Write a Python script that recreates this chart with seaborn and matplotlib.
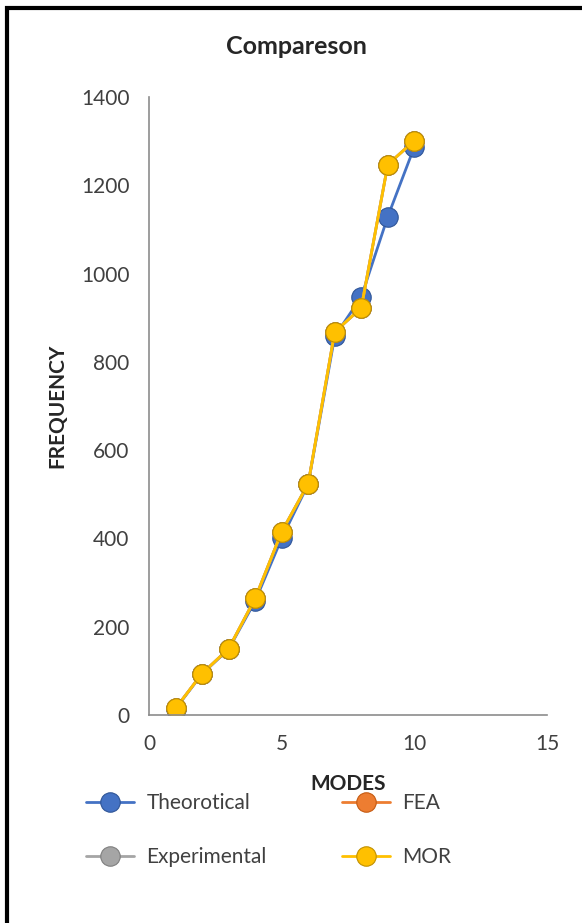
import matplotlib
matplotlib.use('Agg')
import matplotlib.pyplot as plt
import seaborn as sns
import pandas as pd
from matplotlib.patches import Rectangle

modes = [1, 2, 3, 4, 5, 6, 7, 8, 9, 10]
theorotical = [14, 93, 149, 258, 400, 523, 858, 947, 1129, 1287]
fea = [15, 94, 150, 264, 415, 524, 868, 922, 1247, 1301]
experimental = [15, 94, 150, 264, 415, 524, 868, 922, 1247, 1301]
mor = [15, 94, 150, 264, 415, 524, 868, 922, 1247, 1301]

sns.set_style('white')
plt.rcParams['font.family'] = ['Lato', 'DejaVu Sans']

fig = plt.figure(figsize=(5.82, 9.23), dpi=100)
ax = fig.add_axes([149 / 582, 208 / 923, 398 / 582, 618 / 923])

series = [
    ('Theorotical', theorotical, '#4472C4', '#2F5597'),
    ('FEA', fea, '#ED7D31', '#C55A11'),
    ('Experimental', experimental, '#A5A5A5', '#7F7F7F'),
    ('MOR', mor, '#FFC000', '#C09000'),
]
for name, vals, col, edge in series:
    df = pd.DataFrame({'mode': modes, 'freq': vals})
    sns.lineplot(data=df, x='mode', y='freq', ax=ax, color=col, linewidth=2,
                 marker='o', markersize=14, markerfacecolor=col,
                 markeredgecolor=edge, markeredgewidth=0.8, label=name)
handles_list, labels_list = ax.get_legend_handles_labels()
ax.get_legend().remove()

ax.set_xlim(0, 15)
ax.set_ylim(0, 1400)
ax.set_xticks([0, 5, 10, 15])
ax.set_yticks(range(0, 1401, 200))
ax.tick_params(axis='both', length=0, labelsize=15, colors='#404040')
ax.tick_params(axis='y', pad=14)
ax.tick_params(axis='x', pad=14)
for s in ['top', 'right']:
    ax.spines[s].set_visible(False)
for s in ['left', 'bottom']:
    ax.spines[s].set_color('#8C8C8C')
    ax.spines[s].set_linewidth(1.2)

ax.set_xlabel('MODES', fontsize=15, fontweight='bold', labelpad=14)
ax.set_ylabel('FREQUENCY', fontsize=15, fontweight='bold', labelpad=10)
fig.text(296 / 582, 1 - 47 / 923, 'Compareson', ha='center', va='center',
         fontsize=18, fontweight='bold')

order = [0, 2, 1, 3]
fig.legend([handles_list[i] for i in order], [labels_list[i] for i in order],
           ncol=2, loc='upper left', bbox_to_anchor=(86 / 582, 1 - 793 / 923),
           frameon=False, fontsize=15, handlelength=2.3, columnspacing=3.6,
           labelspacing=1.65, handletextpad=0.6, borderpad=0, borderaxespad=0,
           labelcolor='#404040')

fig.patches.append(Rectangle((7 / 582, -0.1), 2, 1 - 8 / 923 + 0.1,
                             transform=fig.transFigure, fill=False,
                             edgecolor='black', linewidth=3))

fig.savefig('out.png', dpi=100)
